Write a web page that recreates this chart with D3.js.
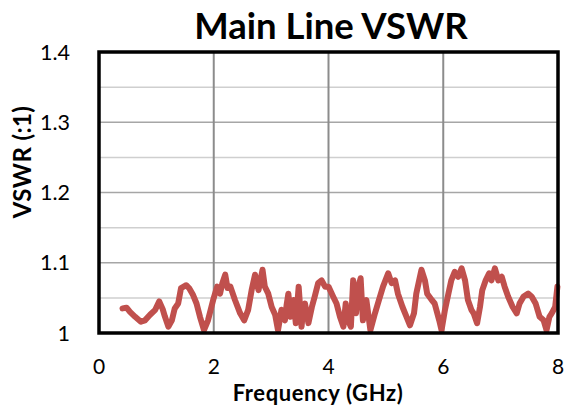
<!DOCTYPE html>
<html>
<head>
<meta charset="utf-8">
<script src="https://cdn.jsdelivr.net/npm/d3@7/dist/d3.min.js"></script>
<style>
  html, body { margin: 0; padding: 0; background: #fff; }
  svg { display: block; }
  text { font-family: Lato, "Open Sans", sans-serif; fill: #000; }
</style>
</head>
<body>
<svg id="chart" width="566" height="407"></svg>
<script>
const title = "Main Line VSWR";
const xLabel = "Frequency (GHz)";
const yLabel = "VSWR (:1)";
const xTicks = [0, 2, 4, 6, 8];
const yTicks = [1, 1.1, 1.2, 1.3, 1.4];
const yMinor = [1.05, 1.15, 1.25, 1.35];

const freq = [0.41,0.48,0.54,0.63,0.73,0.80,0.89,0.98,1.05,1.11,1.15,1.21,1.27,1.32,1.38,1.43,1.52,1.57,1.64,1.70,1.76,1.83,1.90,1.99,2.06,2.11,2.15,2.20,2.24,2.29,2.37,2.46,2.53,2.60,2.66,2.72,2.78,2.85,2.89,2.95,3.01,3.07,3.12,3.18,3.24,3.27,3.30,3.34,3.39,3.43,3.48,3.53,3.56,3.59,3.65,3.71,3.76,3.82,3.88,3.94,4.00,4.08,4.14,4.20,4.26,4.30,4.34,4.39,4.43,4.48,4.52,4.56,4.60,4.63,4.66,4.73,4.81,4.88,4.95,5.04,5.10,5.16,5.21,5.29,5.36,5.42,5.49,5.53,5.58,5.62,5.68,5.72,5.80,5.85,5.93,5.97,6.03,6.09,6.14,6.20,6.26,6.32,6.38,6.43,6.49,6.53,6.59,6.64,6.68,6.74,6.80,6.84,6.90,6.96,7.02,7.07,7.13,7.21,7.28,7.33,7.40,7.48,7.54,7.61,7.68,7.75,7.80,7.85,7.89,7.95,7.99];
const vswr = [1.035,1.036,1.030,1.023,1.016,1.018,1.026,1.033,1.045,1.034,1.023,1.009,1.018,1.035,1.042,1.064,1.068,1.064,1.054,1.042,1.023,1.004,1.018,1.047,1.066,1.056,1.071,1.083,1.064,1.066,1.047,1.028,1.018,1.033,1.061,1.083,1.061,1.090,1.066,1.056,1.037,1.026,1.004,1.033,1.018,1.040,1.056,1.023,1.047,1.014,1.066,1.009,1.035,1.042,1.014,1.037,1.052,1.071,1.075,1.066,1.066,1.052,1.042,1.023,1.009,1.042,1.018,1.009,1.075,1.028,1.066,1.078,1.018,1.040,1.047,1.004,1.028,1.047,1.066,1.085,1.071,1.075,1.056,1.037,1.023,1.011,1.028,1.056,1.075,1.090,1.075,1.056,1.047,1.042,1.018,1.004,1.033,1.056,1.075,1.087,1.080,1.092,1.075,1.047,1.033,1.028,1.014,1.037,1.061,1.075,1.085,1.075,1.092,1.075,1.080,1.066,1.052,1.037,1.028,1.042,1.052,1.056,1.052,1.042,1.023,1.018,1.004,1.023,1.028,1.037,1.066];

const svg = d3.select("#chart");
const L = 99, R = 558, T = 52, B = 333;
const x = d3.scaleLinear().domain([0, 8]).range([L, R]);
const y = d3.scaleLinear().domain([1, 1.4]).range([B, T]);

// minor horizontal grid
svg.append("g").selectAll("line").data(yMinor).join("line")
  .attr("x1", L).attr("x2", R).attr("y1", d => y(d)).attr("y2", d => y(d))
  .attr("stroke", "#cfcfcf").attr("stroke-width", 1.5);
// major horizontal grid
svg.append("g").selectAll("line").data(yTicks.slice(1, -1)).join("line")
  .attr("x1", L).attr("x2", R).attr("y1", d => y(d)).attr("y2", d => y(d))
  .attr("stroke", "#a6a6a6").attr("stroke-width", 1.5);
// vertical grid
svg.append("g").selectAll("line").data(xTicks.slice(1, -1)).join("line")
  .attr("y1", T).attr("y2", B).attr("x1", d => x(d)).attr("x2", d => x(d))
  .attr("stroke", "#8c8c8c").attr("stroke-width", 2);

// data line
const pts = freq.map((f, i) => [f, vswr[i]]);
svg.append("path").datum(pts)
  .attr("fill", "none").attr("stroke", "#C0504D").attr("stroke-width", 6)
  .attr("stroke-linejoin", "round").attr("stroke-linecap", "round")
  .attr("d", d3.line().x(d => x(d[0])).y(d => y(d[1])));

// frame
svg.append("rect").attr("x", L).attr("y", T).attr("width", R - L).attr("height", B - T)
  .attr("fill", "none").attr("stroke", "#000").attr("stroke-width", 3.5);

// y tick labels
svg.append("g").selectAll("text").data(yTicks).join("text")
  .attr("x", 70).attr("y", d => y(d)).attr("dy", "0.36em")
  .attr("text-anchor", "end").attr("font-size", 21.5)
  .text(d => d === 1 ? "1" : d3.format(".1f")(d));

// x tick labels
svg.append("g").selectAll("text").data(xTicks).join("text")
  .attr("x", d => x(d)).attr("y", 374)
  .attr("text-anchor", "middle").attr("font-size", 21)
  .text(d => d);

// title
svg.append("text").attr("x", 331).attr("y", 39).attr("text-anchor", "middle")
  .attr("font-size", 36.5).attr("font-weight", "bold").text(title);

// x label
svg.append("text").attr("x", 318).attr("y", 401).attr("text-anchor", "middle")
  .attr("font-size", 22).attr("font-weight", "bold").attr("letter-spacing", 0.6).text(xLabel);

// y label
svg.append("text").attr("transform", "translate(31,162) rotate(-90)")
  .attr("text-anchor", "middle").attr("font-size", 24).attr("font-weight", "bold").attr("letter-spacing", 0.4).text(yLabel);
</script>
</body>
</html>
